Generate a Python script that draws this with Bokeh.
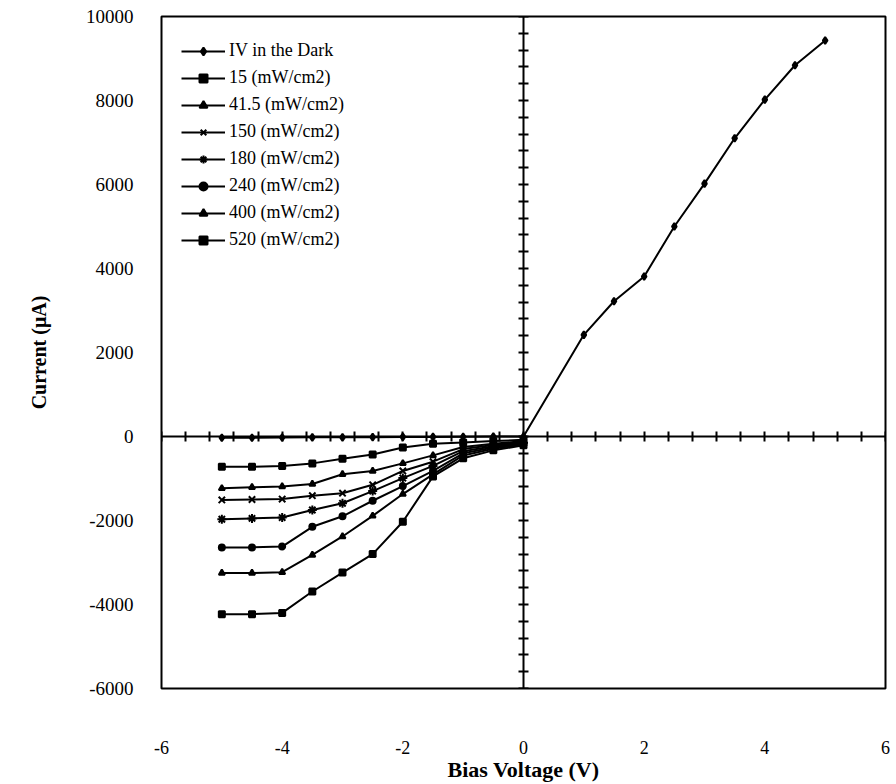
import numpy as np
from bokeh.plotting import figure
from bokeh.models import (LinearAxis, SingleIntervalTicker, FixedTicker, Range1d,
                          CustomJSTickFormatter)
from bokeh.embed import file_html
from bokeh.resources import INLINE

# ---- data ----
voltage_light = [-5, -4.5, -4, -3.5, -3, -2.5, -2, -1.5, -1, -0.5, 0]
i_15 = [-720, -720, -700, -640, -530, -430, -260, -170, -140, -110, -80]
i_41_5 = [-1235, -1210, -1190, -1130, -900, -820, -640, -450, -250, -170, -110]
i_150 = [-1510, -1500, -1490, -1410, -1350, -1150, -820, -600, -300, -200, -130]
i_180 = [-1970, -1950, -1930, -1750, -1590, -1300, -990, -700, -350, -230, -150]
i_240 = [-2640, -2640, -2620, -2150, -1900, -1530, -1180, -820, -400, -260, -170]
i_400 = [-3250, -3250, -3230, -2820, -2380, -1890, -1370, -900, -450, -290, -190]
i_520 = [-4230, -4230, -4200, -3690, -3240, -2800, -2030, -950, -520, -330, -210]

voltage_dark = [-5, -4.5, -4, -3.5, -3, -2.5, -2, -1.5, -1, -0.5, 0,
                1, 1.5, 2, 2.5, 3, 3.5, 4, 4.5, 5]
i_dark = [-30, -30, -25, -20, -20, -15, -10, -10, -5, 0, 0,
          2420, 3220, 3810, 5000, 6020, 7100, 8020, 8840, 9430]

series_labels = ["IV in the Dark", "15 (mW/cm2)", "41.5 (mW/cm2)", "150 (mW/cm2)",
                 "180 (mW/cm2)", "240 (mW/cm2)", "400 (mW/cm2)", "520 (mW/cm2)"]

x_min, x_max, x_major = -6, 6, 2
y_min, y_max, y_major = -6000, 10000, 2000
minor_per_major = 5

FONT = "Liberation Serif"

p = figure(frame_width=724, frame_height=672, output_backend="svg",
           toolbar_location=None,
           x_range=Range1d(x_min, x_max), y_range=Range1d(y_min, y_max),
           min_border_left=161, min_border_right=10, min_border_top=16,
           min_border_bottom=92)
p.background_fill_color = "white"
p.border_fill_color = "white"
p.grid.visible = False
p.outline_line_color = "black"
p.outline_line_width = 2

plain = CustomJSTickFormatter(code="return tick.toString();")

# label axes on the frame edges
p.xaxis.ticker = SingleIntervalTicker(interval=x_major)
p.yaxis.ticker = SingleIntervalTicker(interval=y_major)
for ax in (p.xaxis[0], p.yaxis[0]):
    ax.formatter = plain
    ax.major_tick_line_color = None
    ax.minor_tick_line_color = None
    ax.axis_line_color = None
    ax.major_label_text_font = FONT
    ax.major_label_text_color = "black"
    ax.axis_label_text_font = FONT
    ax.axis_label_text_font_style = "bold"
    ax.axis_label_text_color = "black"
p.xaxis.axis_label = "Bias Voltage (V)"
p.yaxis.axis_label = "Current (\u03bcA)"
p.xaxis.major_label_text_font_size = "18px"
p.xaxis.major_label_standoff = 46
p.xaxis.axis_label_standoff = 0
p.xaxis.axis_label_text_font_size = "22px"
p.yaxis.major_label_text_font_size = "19px"
p.yaxis.major_label_standoff = 22
p.yaxis.axis_label_standoff = 33
p.yaxis.axis_label_text_font_size = "20px"


# crossing axes through the origin (ticks only, no labels)
def cross_axis(lo, hi, major):
    step = major / minor_per_major
    ticks = np.round(np.arange(lo, hi + step / 2, step), 6).tolist()
    return LinearAxis(fixed_location=0,
                      ticker=FixedTicker(ticks=[], minor_ticks=ticks),
                      minor_tick_in=5, minor_tick_out=5,
                      axis_line_width=2, minor_tick_line_width=2,
                      major_label_standoff=0)


p.add_layout(cross_axis(y_min, y_max, y_major), "right")
p.add_layout(cross_axis(x_min, x_max, x_major), "above")

# series
series = [
    (voltage_dark, i_dark, "diamond", 7),
    (voltage_light, i_15, "square", 6),
    (voltage_light, i_41_5, "triangle", 6),
    (voltage_light, i_150, "x", 9),
    (voltage_light, i_180, "asterisk", 9),
    (voltage_light, i_240, "circle", 6),
    (voltage_light, i_400, "triangle", 6),
    (voltage_light, i_520, "square", 6),
]

for (xs, ys, marker, size), label in zip(series, series_labels):
    p.line(xs, ys, line_color="black", line_width=2, legend_label=label)
    p.scatter(xs, ys, marker=marker, size=size, fill_color="black",
              line_color="black", line_width=2, legend_label=label)

leg = p.legend[0]
leg.location = (20, 438)
leg.margin = 0
leg.padding = 2
leg.border_line_color = None
leg.background_fill_alpha = 0
leg.glyph_width = 44
leg.glyph_height = 20
leg.label_height = 20
leg.spacing = 6
leg.label_standoff = 4
leg.label_text_font = FONT
leg.label_text_font_size = "18px"
leg.label_text_color = "black"

open("out.html", "w").write(file_html(p, INLINE))
